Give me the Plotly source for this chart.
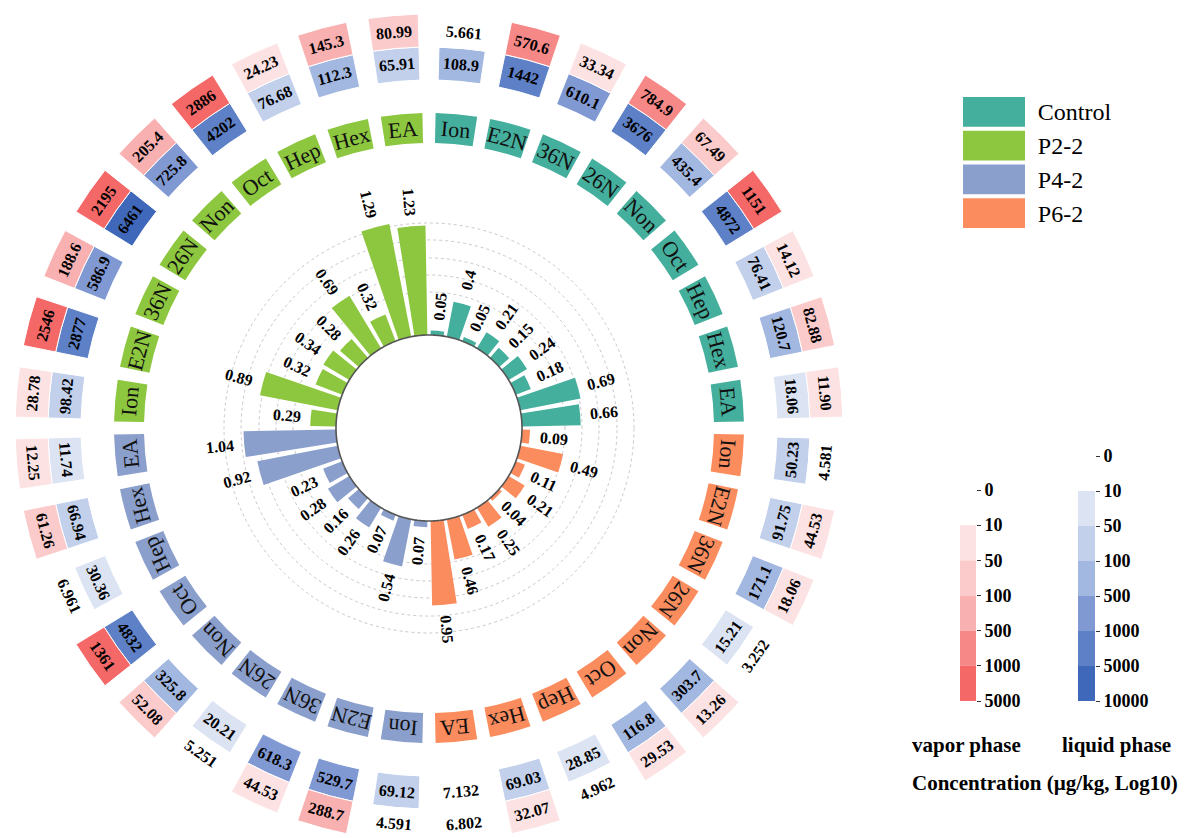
import math
import plotly.graph_objects as go

# ---------------- data ----------------
compounds = ["Ion", "E2N", "36N", "26N", "Non", "Oct", "Hep", "Hex", "EA"]
ring_groups = ["Control", "P6-2", "P4-2", "P2-2"]          # clockwise from 12 o'clock
legend_groups = ["Control", "P2-2", "P4-2", "P6-2"]
group_colors = {"Control": "#45AF9D", "P2-2": "#8DC63F", "P4-2": "#8A9FCC", "P6-2": "#FA8C5E"}

ratio_control = [0.05, 0.4, 0.05, 0.21, 0.15, 0.24, 0.18, 0.69, 0.66]
ratio_p62 = [0.09, 0.49, 0.11, 0.21, 0.04, 0.25, 0.17, 0.46, 0.95]
ratio_p42 = [0.07, 0.54, 0.07, 0.26, 0.16, 0.28, 0.23, 0.92, 1.04]
ratio_p22 = [0.29, 0.89, 0.32, 0.34, 0.28, 0.69, 0.32, 1.29, 1.23]

liquid_control = [108.9, 1442, 610.1, 3676, 435.4, 4872, 76.41, 120.7, 18.06]
vapor_control = [5.661, 570.6, 33.34, 784.9, 67.49, 1151, 14.12, 82.88, 11.90]
liquid_p62 = [50.23, 91.75, 171.1, 15.21, 303.7, 116.8, 28.85, 69.03, 7.132]
vapor_p62 = [4.581, 44.53, 18.06, 3.252, 13.26, 29.53, 4.962, 32.07, 6.802]
liquid_p42 = [69.12, 529.7, 618.3, 20.21, 325.8, 4832, 30.36, 66.94, 11.74]
vapor_p42 = [4.591, 288.7, 44.53, 5.251, 52.08, 1361, 6.961, 61.26, 12.25]
liquid_p22 = [98.42, 2877, 586.9, 6461, 725.8, 4202, 76.68, 112.3, 65.91]
vapor_p22 = [28.78, 2546, 188.6, 2195, 205.4, 2886, 24.23, 145.3, 80.99]

vapor_edges = [10, 50, 100, 500, 1000, 5000]
vapor_ticks = ["0", "10", "50", "100", "500", "1000", "5000"]
vapor_palette = ["#FDE2E3", "#FBCBCC", "#F9B0B0", "#F68888", "#F46868"]
liquid_edges = [10, 50, 100, 500, 1000, 5000, 10000]
liquid_ticks = ["0", "10", "50", "100", "500", "1000", "5000", "10000"]
liquid_palette = ["#DCE4F3", "#C2D0EC", "#A3B8E1", "#8199D3", "#5D80C6", "#3F68BA"]

ratios = [ratio_control, ratio_p62, ratio_p42, ratio_p22]
liquids = [liquid_control, liquid_p62, liquid_p42, liquid_p22]
vapors = [vapor_control, vapor_p62, vapor_p42, vapor_p22]

# ---------------- geometry / style ----------------
W, H = 1200, 838
CX, CY, R = 421, 420, 418
FONT = "Times New Roman, Liberation Serif, serif"
BAR_BASE, BAR_SCALE = 93, 89
LABEL_BASE, LABEL_H = 285, 30
LIQ_BASE, LIQ_H = 348, 33
VAP_BASE, VAP_H = 381, 33
GRID_R = [136, 153, 170, 188, 205]


def slot_theta(g, i):
    return 5 + 10 * (g * 9 + i)


def bin_color(v, edges, palette):
    if v < edges[0]:
        return "rgba(0,0,0,0)"
    k = 0
    for j, e in enumerate(edges[:-1]):
        if v >= e:
            k = j
    return palette[min(k, len(palette) - 1)]


def fmt(v):
    if v >= 1000:
        return f"{v:.0f}"
    if v >= 100:
        return f"{v:.1f}"
    if v >= 10:
        return f"{v:.2f}"
    return f"{v:.3f}"


def norm(a):
    return ((a + 180) % 360) - 180


def xy(r, th):
    t = math.radians(th)
    return r * math.sin(t), r * math.cos(t)


fig = go.Figure()

# inner bars
for g, name in enumerate(ring_groups):
    fig.add_trace(go.Barpolar(
        theta=[slot_theta(g, i) for i in range(9)],
        r=[v * BAR_SCALE for v in ratios[g]],
        base=BAR_BASE, width=8,
        marker=dict(color=group_colors[name], line=dict(width=0)),
        showlegend=False, hoverinfo="skip"))

# compound label ring
for g, name in enumerate(ring_groups):
    fig.add_trace(go.Barpolar(
        theta=[slot_theta(g, i) for i in range(9)],
        r=[LABEL_H] * 9, base=LABEL_BASE, width=7.6,
        marker=dict(color=group_colors[name], line=dict(width=0)),
        showlegend=False, hoverinfo="skip"))

# heatmap rings
all_theta = [slot_theta(g, i) for g in range(4) for i in range(9)]
all_liq = [v for g in range(4) for v in liquids[g]]
all_vap = [v for g in range(4) for v in vapors[g]]
fig.add_trace(go.Barpolar(
    theta=all_theta, r=[LIQ_H] * 36, base=LIQ_BASE, width=7,
    marker=dict(color=[bin_color(v, liquid_edges, liquid_palette) for v in all_liq],
                line=dict(width=1, color="white")),
    showlegend=False, hoverinfo="skip"))
fig.add_trace(go.Barpolar(
    theta=all_theta, r=[VAP_H] * 36, base=VAP_BASE, width=7,
    marker=dict(color=[bin_color(v, vapor_edges, vapor_palette) for v in all_vap],
                line=dict(width=1, color="white")),
    showlegend=False, hoverinfo="skip"))

# inner base circle
fig.add_trace(go.Scatterpolar(
    r=[BAR_BASE] * 361, theta=list(range(361)), mode="lines",
    line=dict(color="#555555", width=1.6), showlegend=False, hoverinfo="skip"))

# invisible trace to create the overlay cartesian frame for rotated text
fig.add_trace(go.Scatter(x=[0], y=[0], mode="markers", marker=dict(opacity=0),
                         showlegend=False, hoverinfo="skip", xaxis="x", yaxis="y"))

annotations = []
for g in range(4):
    for i in range(9):
        th = slot_theta(g, i)
        # bar value labels
        v = ratios[g][i]
        rr = BAR_BASE + v * BAR_SCALE + 24
        x, y = xy(rr, th)
        ang = th - 90 if th < 180 else th - 270
        annotations.append(dict(x=x, y=y, xref="x", yref="y", text=f"<b>{v:g}</b>",
                                showarrow=False, textangle=norm(ang), xanchor="center", yanchor="middle",
                                font=dict(family=FONT, size=16, color="black")))
        # compound labels
        x, y = xy(LABEL_BASE + LABEL_H / 2, th)
        annotations.append(dict(x=x, y=y, xref="x", yref="y", text=compounds[i],
                                showarrow=False, textangle=norm(th), xanchor="center", yanchor="middle",
                                font=dict(family=FONT, size=22, color="#111111")))
        # heatmap values
        cang = th if (th < 90 or th > 270) else th - 180
        for base, hh, val in [(LIQ_BASE, LIQ_H, liquids[g][i]), (VAP_BASE, VAP_H, vapors[g][i])]:
            x, y = xy(base + hh / 2, th)
            annotations.append(dict(x=x, y=y, xref="x", yref="y", text=f"<b>{fmt(val)}</b>",
                                    showarrow=False, textangle=norm(cang), xanchor="center", yanchor="middle",
                                    font=dict(family=FONT, size=16, color="black")))

# colour-scale legends (discrete bands)
fig.add_trace(go.Bar(x=[0] * len(vapor_palette), y=[1] * len(vapor_palette),
                     base=list(range(len(vapor_palette))), width=1,
                     marker=dict(color=vapor_palette, line=dict(width=0)),
                     xaxis="x2", yaxis="y2", showlegend=False, hoverinfo="skip"))
fig.add_trace(go.Bar(x=[0] * len(liquid_palette), y=[1] * len(liquid_palette),
                     base=list(range(len(liquid_palette))), width=1,
                     marker=dict(color=liquid_palette, line=dict(width=0)),
                     xaxis="x3", yaxis="y3", showlegend=False, hoverinfo="skip"))
# group legend
fig.add_trace(go.Bar(x=[1] * 4, y=legend_groups, orientation="h", width=0.88,
                     marker=dict(color=[group_colors[n] for n in legend_groups], line=dict(width=0)),
                     xaxis="x4", yaxis="y4", showlegend=False, hoverinfo="skip"))

pdx = [(CX - R) / W, (CX + R) / W]
pdy = [max(0, (H - CY - R) / H), min(1, (H - CY + R) / H)]

hidden = dict(visible=False, fixedrange=True)
tickfont = dict(family=FONT, size=18, color="black")

fig.update_layout(
    width=W, height=H, margin=dict(l=0, r=0, t=0, b=0), autosize=False,
    template="none", paper_bgcolor="white", plot_bgcolor="rgba(0,0,0,0)",
    polar=dict(
        domain=dict(x=pdx, y=pdy), bgcolor="rgba(0,0,0,0)", hole=0,
        radialaxis=dict(range=[0, R], showline=False, showticklabels=False, ticks="",
                        tickvals=GRID_R, showgrid=True, gridcolor="#c8c8c8", griddash="dot",
                        gridwidth=1),
        angularaxis=dict(rotation=90, direction="clockwise", showline=False, showgrid=False,
                         showticklabels=False, ticks=""),
    ),
    xaxis=dict(domain=pdx, range=[-R, R], **hidden),
    yaxis=dict(domain=pdy, range=[-R, R], **hidden),
    xaxis2=dict(domain=[952 / W, 968 / W], range=[-0.5, 0.5], anchor="y2", **hidden),
    yaxis2=dict(domain=[(H - 693) / H, (H - 482) / H], range=[len(vapor_palette), -1], anchor="x2",
                side="right", showgrid=False, zeroline=False, showline=False, ticks="outside",
                ticklen=4, tickcolor="#333", tickvals=list(range(-1, len(vapor_palette) + 1)),
                ticktext=[f"<b>{t}</b>" for t in vapor_ticks], tickfont=tickfont, fixedrange=True),
    xaxis3=dict(domain=[1070 / W, 1087 / W], range=[-0.5, 0.5], anchor="y3", **hidden),
    yaxis3=dict(domain=[(H - 693) / H, (H - 448) / H], range=[len(liquid_palette), -1], anchor="x3",
                side="right", showgrid=False, zeroline=False, showline=False, ticks="outside",
                ticklen=4, tickcolor="#333", tickvals=list(range(-1, len(liquid_palette) + 1)),
                ticktext=[f"<b>{t}</b>" for t in liquid_ticks], tickfont=tickfont, fixedrange=True),
    xaxis4=dict(domain=[955 / W, 1017 / W], range=[0, 1], anchor="y4", **hidden),
    yaxis4=dict(domain=[(H - 222) / H, (H - 87) / H], anchor="x4", side="right", autorange="reversed",
                showgrid=False, zeroline=False, showline=False, ticks="outside", ticklen=7,
                tickcolor="rgba(0,0,0,0)", tickfont=dict(family=FONT, size=24, color="black"),
                fixedrange=True),
    annotations=annotations + [
        dict(x=958 / W, y=(H - 737) / H, xref="paper", yref="paper", text="<b>vapor phase</b>",
             showarrow=False, xanchor="center", yanchor="middle",
             font=dict(family=FONT, size=21, color="black")),
        dict(x=1108 / W, y=(H - 737) / H, xref="paper", yref="paper", text="<b>liquid phase</b>",
             showarrow=False, xanchor="center", yanchor="middle",
             font=dict(family=FONT, size=21, color="black")),
        dict(x=1037 / W, y=(H - 775) / H, xref="paper", yref="paper",
             text="<b>Concentration (µg/kg, Log10)</b>",
             showarrow=False, xanchor="center", yanchor="middle",
             font=dict(family=FONT, size=21, color="black")),
    ],
)

fig.write_html("out.html")
